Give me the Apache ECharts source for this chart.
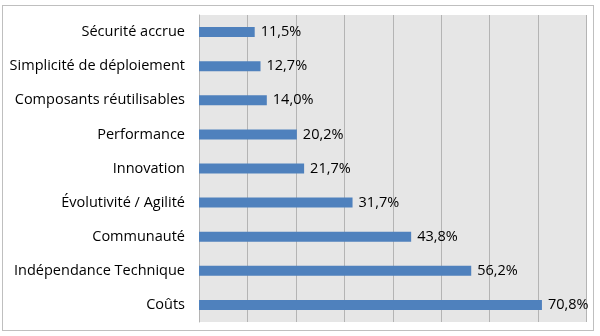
<!DOCTYPE html>
<html><head><meta charset="utf-8">
<script src="https://cdn.jsdelivr.net/npm/echarts@6/dist/echarts.min.js"></script>
<style>html,body{margin:0;padding:0;background:#fff}
#frame{position:absolute;left:2px;top:5px;width:592px;height:326px;border:1px solid #bfbfbf;box-sizing:border-box}
#c{position:absolute;left:0;top:0;width:600px;height:336px}</style>
</head><body><div id="frame"></div><div id="c"></div>
<script>
const categories = ["Coûts","Indépendance Technique","Communauté","Évolutivité / Agilité","Innovation","Performance","Composants réutilisables","Simplicité de déploiement","Sécurité accrue"];
const values = [70.8,56.2,43.8,31.7,21.7,20.2,14.0,12.7,11.5];
const chart = echarts.init(document.getElementById('c'));
const font = "'Open Sans', 'Liberation Sans', sans-serif";
chart.setOption({
  animation:false,
  grid:{left:199,right:13.5,top:15,bottom:14,backgroundColor:'#e6e6e6',show:true,borderWidth:0},
  xAxis:{type:'value',min:0,max:80,interval:10,axisLabel:{show:false},axisLine:{show:false},axisTick:{show:false},
    splitLine:{show:true,lineStyle:{color:'#b4b4b4',width:1}}},
  yAxis:{type:'category',data:categories,axisTick:{show:false},
    axisLine:{show:true,lineStyle:{color:'#b4b4b4'}},
    axisLabel:{color:'#000',fontFamily:font,fontSize:14.5,margin:14}},
  series:[{type:'bar',data:values,barWidth:10,itemStyle:{color:'#4f81bd'},
    label:{show:true,position:'right',distance:6,color:'#000',fontFamily:font,fontSize:14.5,
      formatter:p=>p.value.toFixed(1).replace('.',',')+'%'}}]
});
</script></body></html>
